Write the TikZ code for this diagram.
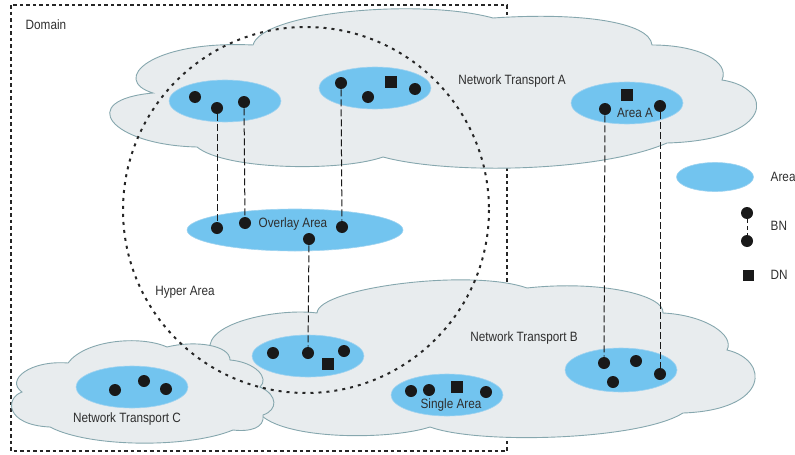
\documentclass[tikz,border=0pt]{standalone}
\usepackage{fontspec}
\setmainfont{Liberation Sans}[FakeStretch=0.87]
\usepackage{xcolor}
\usepackage{tikz}
\usetikzlibrary{shapes.geometric}
\definecolor{cloudfill}{HTML}{E8ECEE}
\definecolor{cloudedge}{HTML}{86A7AE}
\definecolor{areablue}{HTML}{72C4EF}
\definecolor{areaedge}{HTML}{9FD3F0}
\definecolor{txtgrey}{HTML}{2E2E2E}

\begin{document}
\begin{tikzpicture}[x=1pt, y=-1pt, line width=0.8pt,
    every node/.style={font=\fontsize{13.5}{15}\selectfont, text=txtgrey},
    cloudbody/.style={fill=cloudfill, draw=cloudedge, line width=0.9pt},
    area/.style={ellipse, fill=areablue, draw=areaedge, line width=0.6pt,
                 inner sep=0pt, minimum width=112pt, minimum height=42pt},
    bn/.style={circle, fill=black!90, inner sep=0pt, minimum size=12pt},
    dn/.style={rectangle, fill=black!90, inner sep=0pt, minimum size=12pt},
    link/.style={black!90, line width=1pt, dash pattern=on 7pt off 3pt}]

  \useasboundingbox (0,0) rectangle (795,455);

  % -- the domain border goes first, the clouds cover part of it
  \draw[black!85, line width=2pt, dash pattern=on 3.5pt off 3pt]
    (11,5) rectangle (507,451);
  \node[anchor=west] (domain) at (22,25) {Domain};

  % -- network transport A
  \draw[cloudbody] (197,147)
    .. controls (110,145) and (75,100) .. (153,93)
    .. controls (110,80) and (150,40) .. (253,45)
    .. controls (262,12) and (420,-2) .. (493,18)
    .. controls (580,12) and (650,22) .. (652,45)
    .. controls (700,45) and (730,62) .. (722,80)
    .. controls (775,88) and (775,140) .. (667,143)
    .. controls (600,172) and (450,175) .. (383,157)
    .. controls (340,172) and (225,170) .. (197,147) -- cycle;

  % -- network transport B (its left end hides under C)
  \draw[cloudbody] (210,350)
    .. controls (205,322) and (280,308) .. (317,313)
    .. controls (318,288) and (470,268) .. (527,288)
    .. controls (600,280) and (665,295) .. (663,313)
    .. controls (705,315) and (735,335) .. (727,350)
    .. controls (770,360) and (770,410) .. (683,413)
    .. controls (640,440) and (480,445) .. (430,427)
    .. controls (390,440) and (290,440) .. (262,416)
    .. controls (200,410) and (190,370) .. (210,350) -- cycle;

  % -- network transport C
  \draw[cloudbody] (22,392)
    .. controls (5,380) and (30,360) .. (68,363)
    .. controls (85,340) and (140,335) .. (167,347)
    .. controls (195,340) and (230,345) .. (230,360)
    .. controls (255,362) and (270,378) .. (260,387)
    .. controls (278,395) and (278,410) .. (263,415)
    .. controls (265,428) and (250,432) .. (233,430)
    .. controls (190,448) and (90,448) .. (50,427)
    .. controls (5,425) and (5,398) .. (22,392) -- cycle;

  % -- hyper area
  \draw[black!85, line width=2pt, dash pattern=on 3pt off 5pt]
    (306,210) circle[radius=183];

  % -- areas
  \node[area] (areaTL) at (225,101) {};
  \node[area] (areaTM) at (375,88) {};
  \node[area] (areaA) at (627,103) {};
  \node[area, minimum width=216pt] (overlay) at (295,230) {};
  \node[area] (areaBL) at (308,356) {};
  \node[area] (single) at (447,395) {};
  \node[area, minimum height=44pt] (areaBR) at (621,370) {};
  \node[area] (areaC) at (132,387) {};
  \node[area, minimum width=77pt, minimum height=29pt] (keyarea) at (715,177) {};

  % -- texts
  \node (ntA) at (512,81) {Network Transport A};
  \node (ntB) at (524,338) {Network Transport B};
  \node (ntC) at (127,419) {Network Transport C};
  \node (hyper) at (185,292) {Hyper Area};
  \node (ovtxt) at (293,224) {Overlay Area};
  \node (atxt) at (635,113) {Area A};
  \node (stxt) at (451,405) {Single Area};

  % -- border nodes and designated nodes
  \foreach \n/\x/\y in {tl1/195/97, tl2/217/108, tl3/244/102,
      tm1/341/83, tm2/368/97, tm3/415/89,
      a1/605/109, a2/660/106,
      ov1/217/228, ov2/245/223, ov3/342/227, ov4/309/239,
      bl1/273/353, bl2/308/353, bl3/344/351,
      s1/411/391, s2/429/390, s3/486/392,
      br1/604/363, br2/636/361, br3/660/374, br4/613/382,
      c1/115/390, c2/144/381, c3/166/389,
      kb1/747/213, kb2/747/241}
    \node[bn] (\n) at (\x,\y) {};
  \foreach \n/\x/\y in {tmd/391/82, ad/627/95, bld/328/364, sd/457/387}
    \node[dn] (\n) at (\x,\y) {};
  \node[dn, minimum size=11pt] (kd) at (748,275) {};

  % -- vertical links between border nodes
  \foreach \a/\b in {tl2/ov1, tl3/ov2, tm1/ov3, ov4/bl2, a1/br1, a2/br3}
    \draw[link] (\a) -- (\b);
  \draw[black!90, line width=0.9pt, dash pattern=on 4pt off 3pt]
    (kb1) -- (kb2);

  % -- key
  \node[anchor=west] (keyA) at (767,177) {Area};
  \node[anchor=west] (keyB) at (767,226) {BN};
  \node[anchor=west] (keyD) at (767,275) {DN};

\end{tikzpicture}
\end{document}
